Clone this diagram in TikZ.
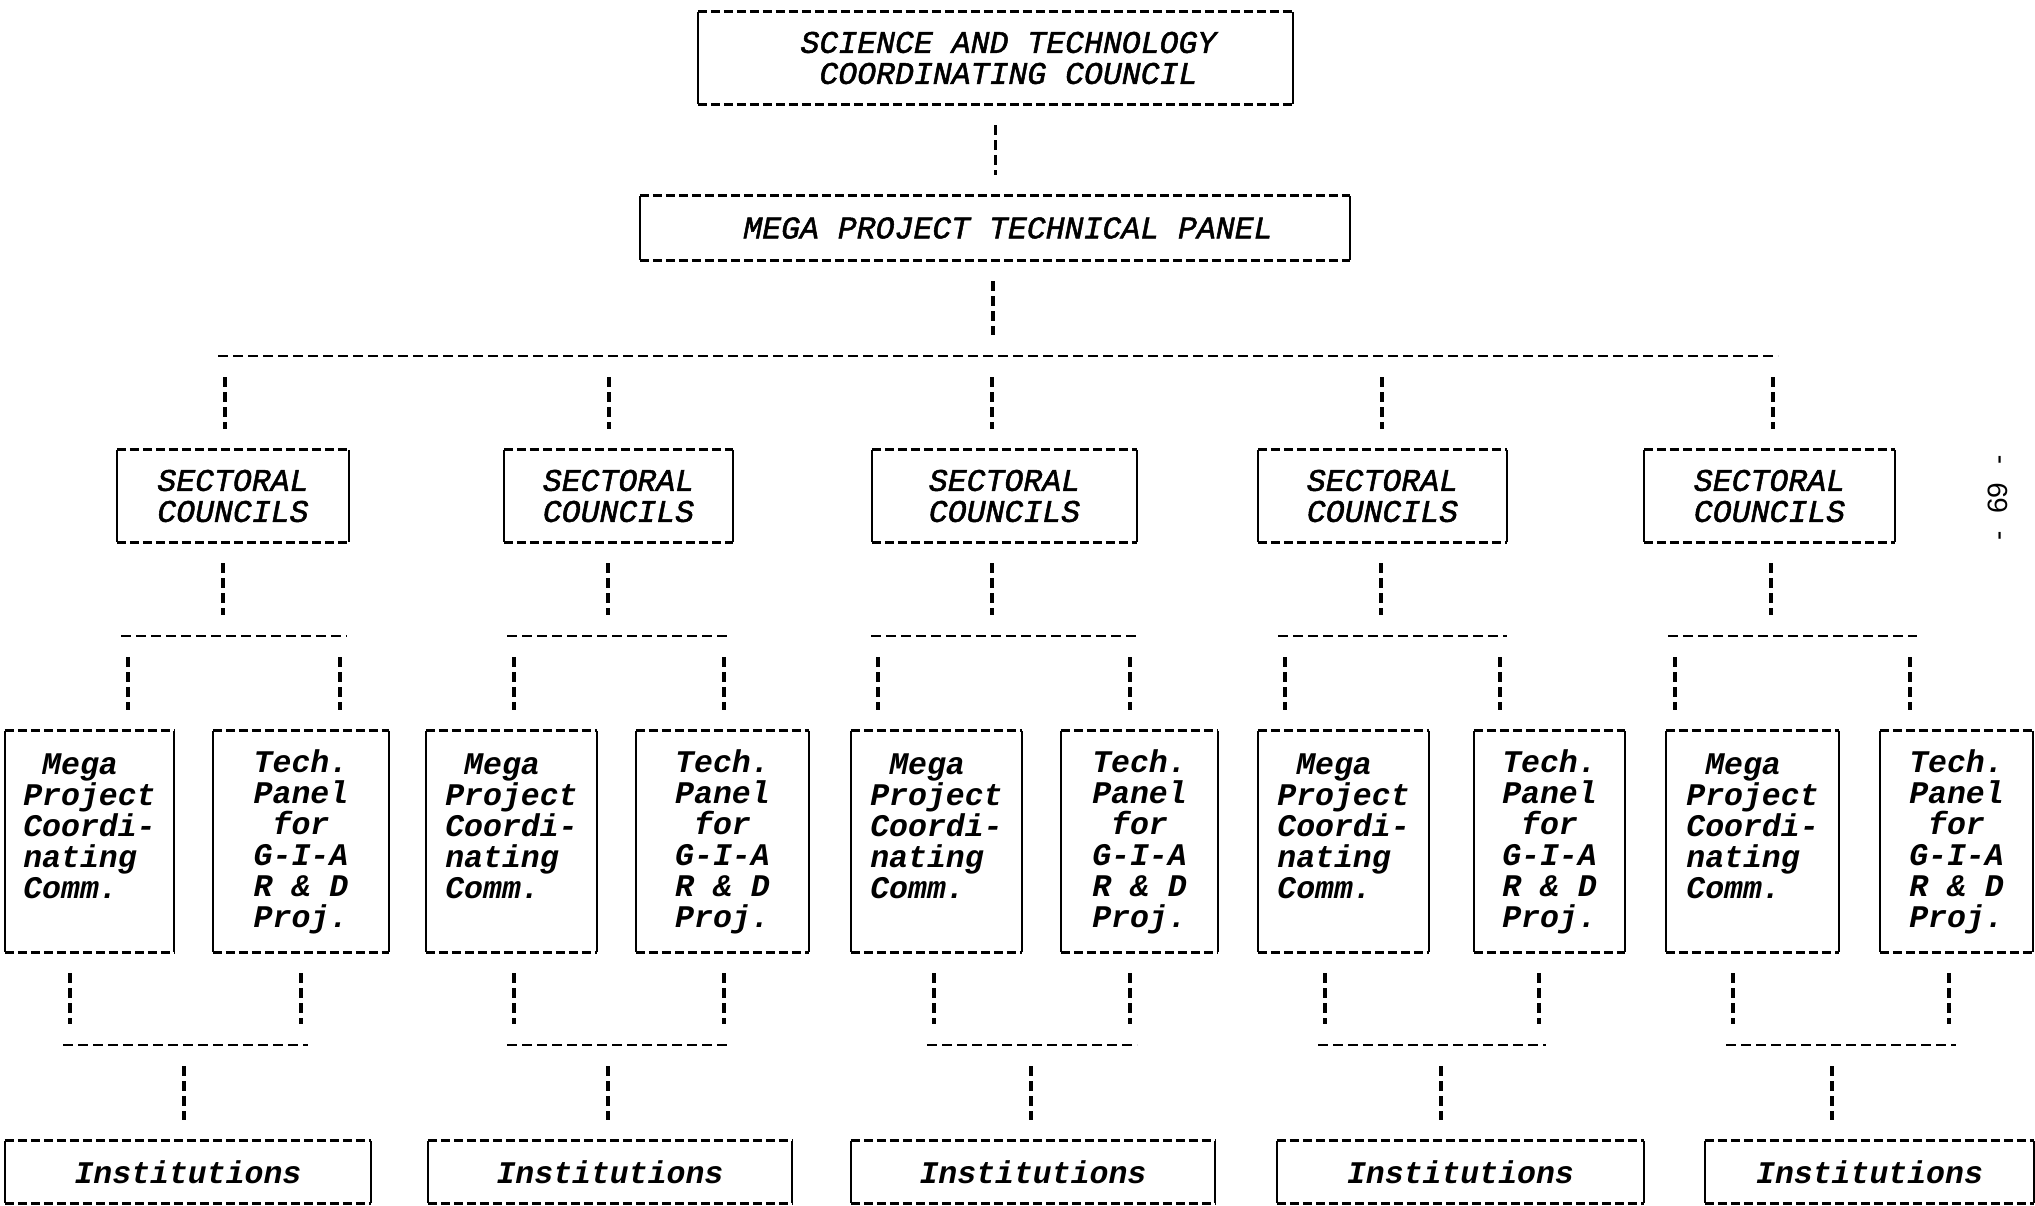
\documentclass[tikz,border=0pt]{standalone}
\usepackage{fontspec}
\newfontfamily\boxfont{Liberation Mono}
\newfontfamily\capfont{Liberation Mono}[ItalicFeatures={FakeBold=1.6}]
\newfontfamily\pgfont{Liberation Sans}
\newcommand\frameit[1]{%
  \draw[hd] (#1.north west) -- (#1.north east) (#1.south west) -- (#1.south east);
  \draw[sd] (#1.north west) -- (#1.south west) (#1.north east) -- (#1.south east);}
\begin{document}
\begin{tikzpicture}[x=1pt,y=-1pt,
  txt/.style={inner sep=0pt, font=\boxfont\bfseries\itshape\fontsize{31.5}{31}\selectfont, align=center},
  captxt/.style={txt, font=\capfont\itshape\fontsize{31.5}{31}\selectfont},
  hd/.style={line width=2.8pt, dash pattern=on 9pt off 4pt},
  sd/.style={line width=2.4pt},
  link/.style={line width=3.2pt, dash pattern=on 10pt off 5pt, shorten <=21pt, shorten >=21pt},
  bus/.style={line width=2.8pt, dash pattern=on 10pt off 5pt}]
\useasboundingbox (0,0) rectangle (2035,1205);
\fill[white] (0,0) rectangle (2035,1205);

\node[captxt, minimum width=595, minimum height=92] (top) at (995.5,58)
  {\hspace*{26pt}SCIENCE AND TECHNOLOGY\\\hspace*{26pt}COORDINATING COUNCIL};
\frameit{top}
\node[captxt, minimum width=710, minimum height=64] (panel) at (995,228)
  {\hspace*{26pt}MEGA PROJECT TECHNICAL PANEL};
\frameit{panel}
\draw[link] (top.south) -- (top.south |- panel.north);
\coordinate (busC) at (993,356);
\coordinate (busL) at (218,356);
\coordinate (busR) at (1778,356);
\draw[link] (panel.south -| busC) -- (busC);
\draw[bus] (busL) -- (busR);

\foreach \i/\sA/\sB/\dT/\dS/\pA/\pB/\mA/\mB/\tA/\tB/\eA/\eB/\f/\iA/\iB in {
1/117/349/225/223/128/340/5/174/213/389/70/301/184/5/371,
2/504/733/609/608/514/724/426/597/636/809/514/724/608/428/792,
3/872/1137/992/992/878/1130/851/1022/1061/1218/934/1130/1031/851/1215,
4/1258/1507/1382/1381/1285/1500/1258/1429/1474/1625/1325/1539/1441/1277/1644,
5/1644/1895/1773/1771/1675/1910/1666/1839/1880/2033/1733/1949/1832/1705/2034}
{
  \node[captxt, minimum width={\sB-\sA}, minimum height=92] (S\i) at ({(\sA+\sB)/2},496)
    {SECTORAL\\COUNCILS};
  \frameit{S\i}
  \node[txt, align=left, minimum width={\mB-\mA}, minimum height=221] (M\i) at ({(\mA+\mB)/2},841.5)
    {\phantom{M}Mega\\Project\\Coordi-\\nating\\Comm.\\\mbox{}};
  \frameit{M\i}
  \node[txt, minimum width={\tB-\tA}, minimum height=221] (T\i) at ({(\tA+\tB)/2},841.5)
    {Tech.\\Panel\\for\\G-I-A\\R \& D\\Proj.};
  \frameit{T\i}
  \node[txt, minimum width={\iB-\iA}, minimum height=62] (I\i) at ({(\iA+\iB)/2},1172)
    {Institutions};
  \frameit{I\i}
  % connectors
  \coordinate (dt\i) at (\dT,356);
  \draw[link] (dt\i) -- (dt\i |- S\i.north);
  \coordinate (ds\i) at (\dS,636);
  \draw[link] (S\i.south -| ds\i) -- (ds\i);
  \coordinate (ua\i) at ({\pA-7},636);
  \coordinate (ub\i) at ({\pB+7},636);
  \draw[bus] (ua\i) -- (ub\i);
  \coordinate (pa\i) at (\pA,636);
  \coordinate (pb\i) at (\pB,636);
  \draw[link] (pa\i) -- (pa\i |- M\i.north);
  \draw[link] (pb\i) -- (pb\i |- T\i.north);
  \coordinate (ea\i) at (\eA,1045);
  \coordinate (eb\i) at (\eB,1045);
  \draw[link] (M\i.south -| ea\i) -- (ea\i);
  \draw[link] (T\i.south -| eb\i) -- (eb\i);
  \coordinate (va\i) at ({\eA-7},1045);
  \coordinate (vb\i) at ({\eB+7},1045);
  \draw[bus] (va\i) -- (vb\i);
  \coordinate (f\i) at (\f,1045);
  \draw[link] (f\i) -- (f\i |- I\i.north);
}

\node[font=\pgfont\fontsize{28}{28}\selectfont, rotate=90, inner sep=0pt] (pg) at (1998,498)
  {-\hspace{18pt}69\hspace{18pt}-};
\end{tikzpicture}
\end{document}
